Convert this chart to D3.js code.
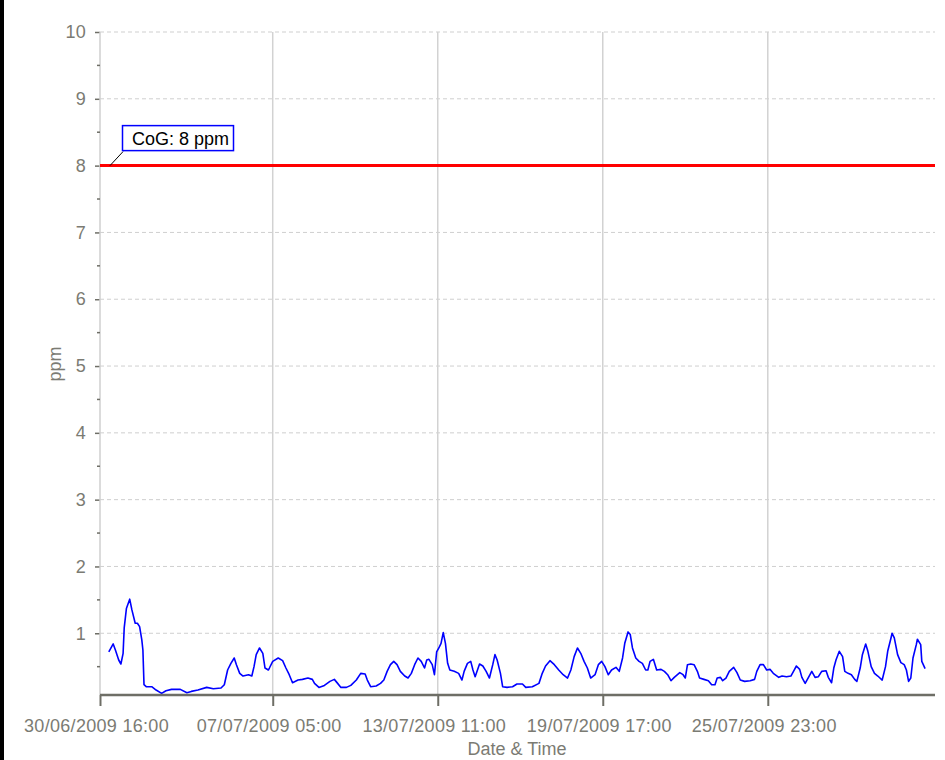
<!DOCTYPE html>
<html>
<head>
<meta charset="utf-8">
<script src="https://cdn.jsdelivr.net/npm/d3@7"></script>
<style>
	body { margin: 0; background: #fff; }
	svg { display: block; }
	.tick-label { font-family: "Liberation Sans", Arial, sans-serif; font-size: 18px; fill: #7b7b73; letter-spacing: 0.3px; }
	.axis-title { font-family: "Liberation Sans", Arial, sans-serif; font-size: 18px; fill: #7b7b73; }
	.note { font-family: "Liberation Sans", Arial, sans-serif; font-size: 18px; fill: #000; }
</style>
</head>
<body>
<script>
// Data: hours after 30/06/2009 16:00 and ppm
const startTime = "2009-06-30T16:00:00";
const offsetHours = [
	8, 12, 14, 17, 19, 21, 22, 24, 27, 29, 32, 34, 36, 38, 39, 40, 42, 47, 51, 56,
	60, 65, 73, 79, 83, 89, 97, 103, 110, 113, 116, 119, 122, 124, 127, 130, 135, 138, 140, 142,
	145, 148, 150, 153, 154, 157, 162, 166, 169, 172, 175, 180, 184, 189, 193, 195, 199, 204, 209, 213,
	216, 219, 224, 228, 233, 237, 241, 243, 246, 251, 255, 258, 261, 264, 267, 270, 273, 277, 280, 283,
	286, 289, 292, 295, 297, 299, 302, 304, 306, 308, 310, 312, 314, 316, 318, 322, 326, 329, 331, 334,
	337, 339, 341, 345, 348, 351, 354, 357, 359, 361, 364, 366, 370, 375, 379, 384, 387, 393, 399, 402,
	405, 409, 413, 417, 421, 425, 428, 431, 434, 437, 440, 443, 446, 450, 453, 456, 459, 462, 465, 469,
	472, 475, 477, 480, 482, 484, 487, 490, 493, 496, 498, 500, 503, 506, 510, 513, 516, 519, 522, 527,
	530, 532, 534, 537, 540, 543, 545, 549, 553, 556, 559, 561, 564, 566, 569, 572, 576, 579, 582, 586,
	591, 595, 597, 600, 603, 606, 609, 612, 617, 620, 624, 628, 631, 633, 636, 638, 641, 644, 647, 650,
	653, 656, 660, 662, 665, 667, 669, 672, 675, 677, 680, 683, 686, 688, 691, 693, 696, 698, 701, 704,
	707, 711, 714, 716, 719, 720, 722, 725, 728, 731, 733, 735, 737, 739, 742, 743, 746, 747, 750
];
const ppmValues = [
	0.72, 0.84, 0.75, 0.60, 0.54, 0.70, 1.08, 1.37, 1.51, 1.35, 1.15, 1.15, 1.10, 0.90, 0.75, 0.23, 0.20, 0.20, 0.15, 0.10,
	0.14, 0.16, 0.16, 0.11, 0.13, 0.15, 0.19, 0.17, 0.18, 0.23, 0.45, 0.55, 0.63, 0.53, 0.40, 0.36, 0.38, 0.36, 0.50, 0.68,
	0.78, 0.70, 0.48, 0.45, 0.48, 0.58, 0.63, 0.59, 0.48, 0.38, 0.26, 0.30, 0.31, 0.33, 0.31, 0.25, 0.19, 0.22, 0.28, 0.31,
	0.25, 0.19, 0.19, 0.22, 0.30, 0.40, 0.39, 0.30, 0.20, 0.21, 0.25, 0.30, 0.43, 0.53, 0.58, 0.53, 0.43, 0.36, 0.33, 0.40,
	0.53, 0.63, 0.58, 0.48, 0.60, 0.61, 0.53, 0.38, 0.72, 0.78, 0.85, 1.01, 0.85, 0.55, 0.45, 0.43, 0.40, 0.30, 0.43, 0.55,
	0.58, 0.45, 0.35, 0.54, 0.51, 0.43, 0.33, 0.53, 0.68, 0.60, 0.40, 0.20, 0.19, 0.20, 0.24, 0.24, 0.19, 0.20, 0.25, 0.40,
	0.51, 0.59, 0.53, 0.45, 0.38, 0.33, 0.45, 0.65, 0.78, 0.70, 0.58, 0.48, 0.33, 0.38, 0.53, 0.58, 0.50, 0.38, 0.45, 0.49,
	0.43, 0.63, 0.85, 1.02, 0.98, 0.78, 0.63, 0.58, 0.55, 0.45, 0.45, 0.58, 0.61, 0.45, 0.46, 0.43, 0.38, 0.29, 0.34, 0.41,
	0.38, 0.33, 0.53, 0.54, 0.53, 0.43, 0.33, 0.31, 0.29, 0.23, 0.23, 0.33, 0.34, 0.29, 0.33, 0.43, 0.49, 0.41, 0.30, 0.28,
	0.29, 0.31, 0.43, 0.53, 0.53, 0.45, 0.46, 0.40, 0.34, 0.36, 0.35, 0.36, 0.45, 0.51, 0.46, 0.34, 0.25, 0.34, 0.43, 0.34,
	0.35, 0.43, 0.44, 0.34, 0.26, 0.48, 0.60, 0.73, 0.65, 0.43, 0.40, 0.38, 0.31, 0.28, 0.48, 0.68, 0.84, 0.73, 0.50, 0.40,
	0.36, 0.30, 0.50, 0.73, 0.93, 1.00, 0.93, 0.68, 0.56, 0.53, 0.45, 0.28, 0.33, 0.63, 0.83, 0.91, 0.83, 0.58, 0.47
];
const xTickDates = ["2009-06-30T16:00:00", "2009-07-07T05:00:00", "2009-07-13T11:00:00", "2009-07-19T17:00:00", "2009-07-25T23:00:00"];
const yTicks = [1, 2, 3, 4, 5, 6, 7, 8, 9, 10];
const yMinorTicks = [0.5, 1.5, 2.5, 3.5, 4.5, 5.5, 6.5, 7.5, 8.5, 9.5];
const limitValue = 8;
const limitLabel = "CoG: 8 ppm";
const xTitle = "Date & Time";
const yTitle = "ppm";

const width = 945, height = 760;
const plotLeft = 100, plotRight = 935, plotTop = 32, plotBottom = 695;

const parse = d3.timeParse("%Y-%m-%dT%H:%M:%S");
const t0 = parse(startTime);
const points = offsetHours.map((h, i) => ({ date: d3.timeHour.offset(t0, h), value: ppmValues[i] }));

const x = d3.scaleTime()
	.domain([t0, d3.timeHour.offset(t0, 759)])
	.range([plotLeft, plotRight]);
const y = d3.scaleLinear()
	.domain([0.076, 10])
	.range([plotBottom, plotTop]);

const svg = d3.select("body").append("svg")
	.attr("width", width)
	.attr("height", height);

svg.append("rect").attr("width", width).attr("height", height).attr("fill", "#fff");
// black strip on the left edge
svg.append("rect").attr("x", 0).attr("y", 0).attr("width", 4).attr("height", height).attr("fill", "#000");

// horizontal dashed grid
svg.append("g").selectAll("line")
	.data(yTicks)
	.join("line")
	.attr("x1", plotLeft).attr("x2", plotRight)
	.attr("y1", d => y(d)).attr("y2", d => y(d))
	.attr("stroke", "#cfcfcf")
	.attr("stroke-dasharray", "4,3");

// vertical grid
const tickDates = xTickDates.map(parse);
svg.append("g").selectAll("line")
	.data(tickDates.slice(1))
	.join("line")
	.attr("x1", d => x(d)).attr("x2", d => x(d))
	.attr("y1", plotTop).attr("y2", plotBottom)
	.attr("stroke", "#d2d2d2")
	.attr("stroke-width", 1.5);

// y axis
const yAxis = svg.append("g").attr("transform", `translate(${plotLeft},0)`)
	.call(d3.axisLeft(y).tickValues(yTicks).tickSize(5).tickPadding(9).tickFormat(d3.format("d")));
yAxis.select(".domain").remove();
yAxis.selectAll(".tick line").attr("stroke", "#6e6e66").attr("stroke-width", 1.5);
yAxis.selectAll(".tick text").attr("class", "tick-label").attr("fill", null);
yAxis.attr("font-family", null).attr("font-size", null);
svg.append("line")
	.attr("x1", plotLeft).attr("x2", plotLeft)
	.attr("y1", plotTop).attr("y2", plotBottom)
	.attr("stroke", "#cfcfcf")
	.attr("stroke-width", 1.5);
svg.append("g").selectAll("line")
	.data(yMinorTicks)
	.join("line")
	.attr("x1", plotLeft - 3).attr("x2", plotLeft)
	.attr("y1", d => y(d)).attr("y2", d => y(d))
	.attr("stroke", "#6e6e66")
	.attr("stroke-width", 1.5);

// limit line and its note
svg.append("line")
	.attr("x1", plotLeft).attr("x2", plotRight)
	.attr("y1", y(limitValue)).attr("y2", y(limitValue))
	.attr("stroke", "#ff0000")
	.attr("stroke-width", 3);
svg.append("line")
	.attr("x1", plotLeft + 10).attr("y1", y(limitValue))
	.attr("x2", plotLeft + 23).attr("y2", y(limitValue) - 14)
	.attr("stroke", "#000")
	.attr("stroke-width", 1);
svg.append("rect")
	.attr("x", plotLeft + 22.5).attr("y", y(limitValue) - 40)
	.attr("width", 111).attr("height", 25)
	.attr("fill", "#fff")
	.attr("stroke", "#0000ff")
	.attr("stroke-width", 1.5);
svg.append("text")
	.attr("class", "note")
	.attr("x", plotLeft + 32).attr("y", y(limitValue) - 21)
	.text(limitLabel);

// data line
const line = d3.line()
	.x(d => x(d.date))
	.y(d => y(d.value));
svg.append("path")
	.datum(points)
	.attr("d", line)
	.attr("fill", "none")
	.attr("stroke", "#0000ff")
	.attr("stroke-width", 1.6)
	.attr("stroke-linejoin", "round");

// x axis
const xAxis = svg.append("g").attr("transform", `translate(0,${plotBottom})`)
	.call(d3.axisBottom(x).tickValues(tickDates).tickSize(11).tickPadding(13)
		.tickFormat(d3.timeFormat("%d/%m/%Y %H:%M")));
xAxis.select(".domain").remove();
xAxis.attr("font-family", null).attr("font-size", null);
xAxis.selectAll(".tick line").attr("stroke", "#6e6e66").attr("stroke-width", 2);
xAxis.selectAll(".tick text").attr("class", "tick-label").attr("fill", null)
	.attr("dx", -4);
svg.append("line")
	.attr("x1", plotLeft).attr("x2", plotRight)
	.attr("y1", plotBottom).attr("y2", plotBottom)
	.attr("stroke", "#6e6e66")
	.attr("stroke-width", 2.5);

// axis titles
svg.append("text")
	.attr("class", "axis-title")
	.attr("x", 517).attr("y", 755)
	.attr("text-anchor", "middle")
	.text(xTitle);
svg.append("text")
	.attr("class", "axis-title")
	.attr("transform", "translate(61,364) rotate(-90)")
	.attr("text-anchor", "middle")
	.text(yTitle);
</script>
</body>
</html>
